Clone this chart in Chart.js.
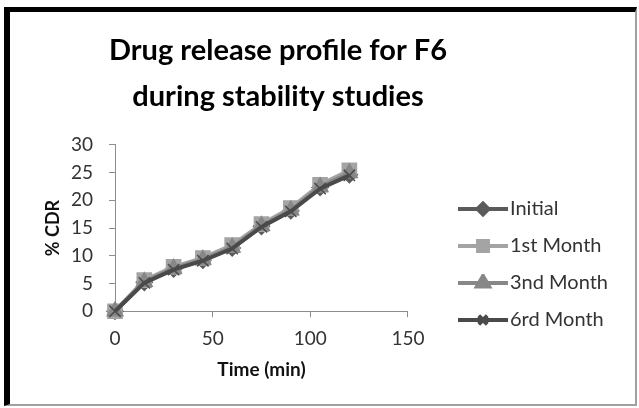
<!DOCTYPE html>
<html>
<head>
<meta charset="utf-8">
<script src="https://cdn.jsdelivr.net/npm/chart.js@4.4.0/dist/chart.umd.min.js"></script>
<style>
  html, body { margin: 0; padding: 0; background: #fff; }
  #wrap { position: relative; width: 639px; height: 408px; }
  canvas { position: absolute; left: 0; top: 0; }
  #frame { position: absolute; left: 4px; top: 7px; width: 625px; height: 392px;
           border-left: 6px solid #000; border-top: 5px solid #000;
           border-right: 2px solid #a0a0a0; border-bottom: 2px solid #a0a0a0;
           pointer-events: none; }
</style>
</head>
<body>
<div id="wrap">
  <canvas id="c" width="639" height="408"></canvas>
  <div id="frame"></div>
</div>
<script>
const titleLines = ['Drug release profile for F6', 'during stability studies'];
const seriesNames = ['Initial', '1st Month', '3nd Month', '6rd Month'];
const times = [0, 15, 30, 45, 60, 75, 90, 105, 120];
const initial = [0, 5.2, 7.6, 9.2, 11.4, 15.3, 18.1, 22.3, 24.6];
const month1  = [0, 5.6, 8.0, 9.6, 11.9, 15.7, 18.6, 22.8, 25.4];
const month3  = [0, 5.3, 7.7, 9.3, 11.5, 15.4, 18.2, 22.4, 24.9];
const month6  = [0, 5.1, 7.5, 9.1, 11.3, 15.2, 18.0, 22.1, 24.5];
const xTicks = [0, 50, 100, 150];
const yTicks = [0, 5, 10, 15, 20, 25, 30];

const FONT = 'Lato, "Open Sans", sans-serif';
const colors = ['#5b5b5b', '#a4a4a4', '#878787', '#4a4a4a'];
const styles = ['rectRot', 'rect', 'triangle', 'crossRot'];
const radii = [8, 10, 9, 8];
const legendRadii = [5.5, 7, 7, 6];
const allValues = [initial, month1, month3, month6];

const PAD_LEFT = -62;     // layout padding (shifts title centre left like the original)
const Y_AXIS_WIDTH = 177; // width reserved for the y axis block

const LEG_BOX = 75;   // legend symbol box width
const LEG_IMG = 91;   // legend symbol image width
const LEG_LINE = 50;  // visible line sample length

function legendImage(i) {
  const w = LEG_IMG, h = 18;
  const cv = document.createElement('canvas');
  cv.width = w; cv.height = h;
  const ctx = cv.getContext('2d');
  ctx.strokeStyle = colors[i];
  ctx.fillStyle = colors[i];
  ctx.lineWidth = 4;
  const x0 = w - LEG_LINE;
  ctx.beginPath(); ctx.moveTo(x0, h / 2); ctx.lineTo(w, h / 2); ctx.stroke();
  Chart.helpers.drawPoint(ctx, { pointStyle: styles[i], radius: legendRadii[i], borderWidth: 1.5, rotation: 0 }, x0 + LEG_LINE / 2, h / 2);
  ctx.lineWidth = 1.5;
  ctx.fill();
  ctx.stroke();
  return cv;
}

const datasets = seriesNames.map((name, i) => ({
  label: name,
  data: times.map((t, j) => ({ x: t, y: allValues[i][j] })),
  borderColor: colors[i],
  backgroundColor: colors[i],
  pointBackgroundColor: colors[i],
  pointBorderColor: colors[i],
  pointStyle: styles[i],
  pointRadius: radii[i],
  pointBorderWidth: 1.5,
  borderWidth: 4,
  showLine: true,
  tension: 0,
  clip: false,
  order: 4 - i
}));

new Chart(document.getElementById('c'), {
  type: 'scatter',
  data: { datasets },
  options: {
    responsive: false,
    animation: false,
    layout: { padding: { left: PAD_LEFT, right: 21, top: 22, bottom: 25 } },
    plugins: {
      title: {
        display: true,
        text: titleLines,
        color: '#000',
        font: { family: FONT, size: 29, weight: 'bold', lineHeight: 1.6 },
        padding: { top: 5, bottom: 25 }
      },
      legend: {
        position: 'right',
        align: 'center',
        maxWidth: 260,
        title: { display: true, text: '', font: { size: 10 }, padding: { top: 112, bottom: 0 } },
        labels: {
          usePointStyle: true,
          pointStyleWidth: LEG_BOX,
          boxHeight: 16,
          padding: 17,
          color: '#333',
          font: { family: FONT, size: 20 },
          generateLabels: (chart) => chart.data.datasets.map((ds, i) => ({
            text: ds.label,
            pointStyle: legendImage(i),
            fillStyle: colors[i],
            strokeStyle: colors[i],
            lineWidth: 0,
            hidden: false,
            datasetIndex: i,
            fontColor: '#333'
          }))
        }
      },
      tooltip: { enabled: false }
    },
    scales: {
      x: {
        type: 'linear',
        min: 0, max: 150,
        afterBuildTicks: (s) => { s.ticks = xTicks.map(v => ({ value: v })); },
        ticks: { color: '#333', font: { family: FONT, size: 19 }, padding: 10, autoSkip: false, maxRotation: 0 },
        grid: { display: true, drawOnChartArea: false, tickLength: 6, color: '#8c8c8c' },
        border: { color: '#8c8c8c', width: 1 },
        title: { display: true, text: 'Time (min)', color: '#111', font: { family: FONT, size: 19, weight: 'bold', lineHeight: 1.0 }, padding: { top: 0, bottom: 4 } }
      },
      y: {
        type: 'linear',
        min: 0, max: 30,
        afterBuildTicks: (s) => { s.ticks = yTicks.map(v => ({ value: v })); },
        afterFit: (s) => { s.width = Y_AXIS_WIDTH; },
        ticks: { color: '#333', font: { family: FONT, size: 19 }, padding: 16, autoSkip: false },
        grid: { display: true, drawOnChartArea: false, tickLength: 6, color: '#8c8c8c' },
        border: { color: '#8c8c8c', width: 1 },
        title: { display: true, text: '% CDR', color: '#111', font: { family: FONT, size: 18, weight: 'bold', lineHeight: 0.8 }, padding: { top: 108, bottom: 0 } }
      }
    }
  }
});
</script>
</body>
</html>
